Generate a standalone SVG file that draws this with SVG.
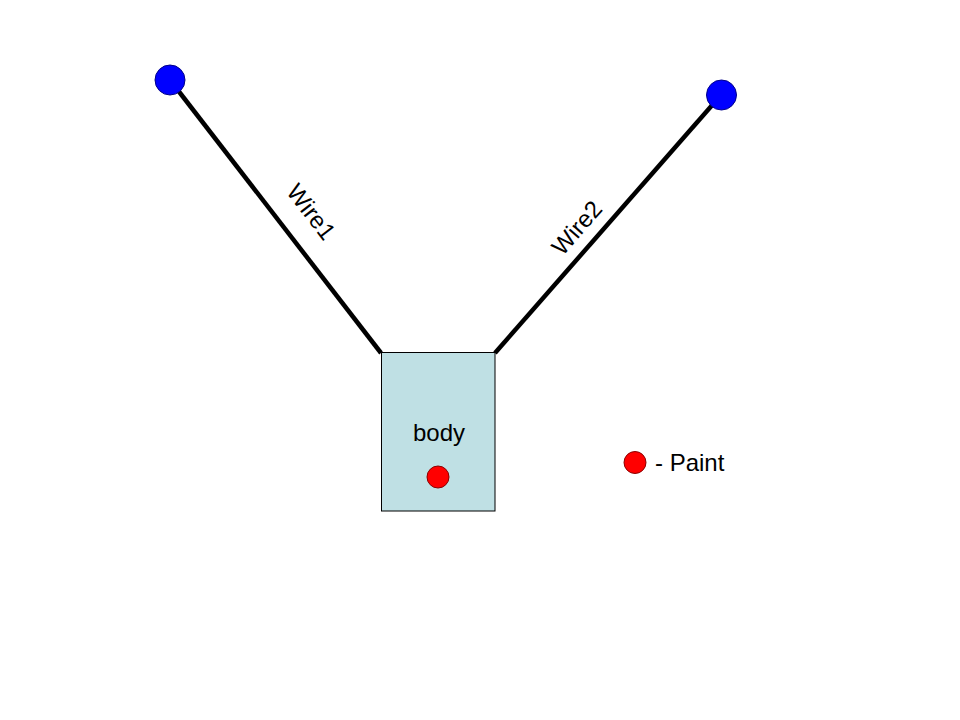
<svg xmlns="http://www.w3.org/2000/svg" width="960" height="720" viewBox="0 0 960 720">
<style>
.wire{stroke:#000;stroke-width:4.5;fill:none}
.pin{fill:#0000ff;stroke:#00008a;stroke-width:1}
.paint{fill:#ff0000;stroke:#8a0000;stroke-width:1}
text{font-family:"Liberation Sans",Arial,sans-serif;font-size:24px;fill:#000}
</style>
<rect width="960" height="720" fill="#fff"/>
<g id="connectors">
<line class="wire" x1="170" y1="80" x2="381" y2="353"/>
<line class="wire" x1="721" y1="95" x2="495" y2="353"/>
<text transform="translate(311,212) rotate(52.3)" text-anchor="middle" dy="8">Wire1</text>
<text transform="translate(577,228) rotate(-48.8)" text-anchor="middle" dy="8">Wire2</text>
</g>
<g id="pin1"><circle class="pin" cx="170" cy="80" r="15"/></g>
<g id="pin2"><circle class="pin" cx="721.5" cy="95" r="15"/></g>
<g id="body">
<rect x="381.5" y="352.5" width="113.5" height="158.5" fill="#bfe0e4" stroke="#000" stroke-width="1"/>
<text x="439" y="441" text-anchor="middle">body</text>
<circle class="paint" cx="438" cy="477" r="11"/>
</g>
<g id="legend">
<circle class="paint" cx="635" cy="462.5" r="11"/>
<text x="655" y="471">- Paint</text>
</g>
</svg>
